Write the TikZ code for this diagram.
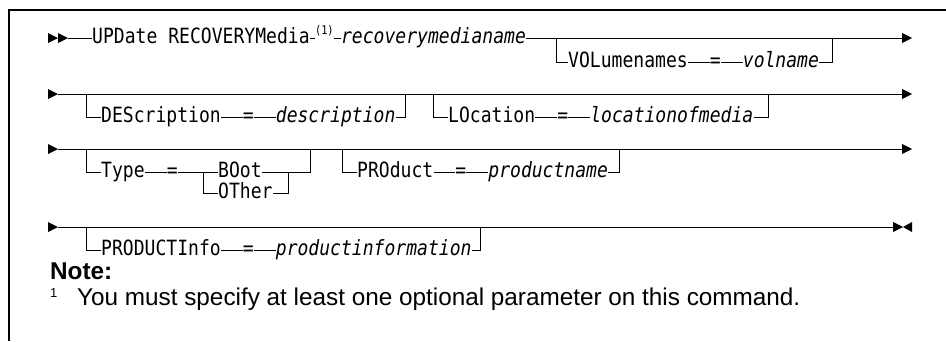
\documentclass[tikz,border=0pt]{standalone}
\usepackage{fontspec}
\setmainfont{Liberation Sans}
\newfontfamily\railfont[FakeStretch=0.86]{DejaVu Sans Mono}
\usetikzlibrary{arrows.meta,positioning}

% filled heads at the start and the end of a rail
\newcommand{\railhead}[2]{\fill (#1,#2-5) -- (#1+10,#2) -- (#1,#2+5) -- cycle;}
\newcommand{\railstop}[2]{\fill (#1,#2) -- (#1+9,#2-5) -- (#1+9,#2+5) -- cycle;}

\begin{document}
\begin{tikzpicture}[
    x=1pt, y=-1pt,
    node distance=21.7pt,
    kw/.style={
        font=\railfont\fontsize{21}{25}\selectfont, inner sep=0pt,
        anchor=west, text height=14pt, text depth=3pt
    },
    var/.style={kw, font=\railfont\fontsize{21}{25}\selectfont\itshape},
    fnMark/.style={kw, font=\railfont\fontsize{12}{13}\selectfont},
    rail/.style={line width=0.9pt, draw=black},
    railEnd/.style={rail, -{Triangle[length=10pt, width=10pt]}},
    frame/.style={line width=1.4pt},
    noteTxt/.style={anchor=base west, inner sep=0pt, font=\fontsize{24.3}{29}\selectfont}
]
\useasboundingbox (0,0) rectangle (946,341);

% Frame
\draw[frame] (946,10) -- (9,10) -- (9,341);

% Row 1: command and volume names
\railhead{48}{38} \railhead{58}{38}
\coordinate (s1) at (68,38);
\coordinate (e1) at (912,38);
\coordinate (b1l) at (556,38);
\coordinate (b1r) at (832,38);
\node[kw] (upd) at (92,38) {UPDate RECOVERYMedia};
\node[fnMark, right=5pt of upd] (fn) {\raisebox{9.5pt}{(1)}};
\node[var, right=7pt of fn] (recmed) {recoverymedianame};
\node[kw] (vol) at (568,62) {VOLumenames};
\node[kw, right=of vol] (eq1) {=};
\node[var, right=of eq1] (volname) {volname};

\draw[rail] (s1) -- (upd);
\draw[rail] (upd) -- (fn);
\draw[rail] (fn) -- (recmed);
\draw[railEnd] (recmed) -- (e1);
\draw[rail] (b1l) |- (vol);
\draw[rail] (vol) -- (eq1);
\draw[rail] (eq1) -- (volname);
\draw[rail] (volname) -| (b1r);

% Row 2: description and location
\railhead{48}{94}
\coordinate (s2) at (58,94);
\coordinate (e2) at (912,94);
\coordinate (b2l) at (86,94);
\coordinate (b2r) at (405,94);
\coordinate (b3l) at (433,94);
\coordinate (b3r) at (768,94);
\node[kw] (des) at (101,117) {DEScription};
\node[kw, right=of des] (eq2) {=};
\node[var, right=of eq2] (desc) {description};
\node[kw] (loc) at (448,117) {LOcation};
\node[kw, right=of loc] (eq3) {=};
\node[var, right=of eq3] (locm) {locationofmedia};

\draw[railEnd] (s2) -- (e2);
\draw[rail] (b2l) |- (des);
\draw[rail] (des) -- (eq2);
\draw[rail] (eq2) -- (desc);
\draw[rail] (desc) -| (b2r);
\draw[rail] (b3l) |- (loc);
\draw[rail] (loc) -- (eq3);
\draw[rail] (eq3) -- (locm);
\draw[rail] (locm) -| (b3r);

% Row 3: type and product
\railhead{48}{149}
\coordinate (s3) at (58,149);
\coordinate (e3) at (912,149);
\coordinate (b4l) at (86,149);
\coordinate (b4r) at (310,149);
\coordinate (split) at (203,172);
\coordinate (join) at (288,172);
\coordinate (b5l) at (342,149);
\coordinate (b5r) at (619,149);
\node[kw] (type) at (101,172) {Type};
\node[kw, right=of type] (eq4) {=};
\node[kw] (boot) at (218,172) {BOot};
\node[kw] (other) at (218,193) {OTher};
\node[kw] (pro) at (357,172) {PROduct};
\node[kw, right=of pro] (eq5) {=};
\node[var, right=of eq5] (pname) {productname};

\draw[railEnd] (s3) -- (e3);
\draw[rail] (b4l) |- (type);
\draw[rail] (type) -- (eq4);
\draw[rail] (eq4) -- (boot);
\draw[rail] (split) |- (other);
\draw[rail] (other) -| (join);
\draw[rail] (boot) -| (b4r);
\draw[rail] (b5l) |- (pro);
\draw[rail] (pro) -- (eq5);
\draw[rail] (eq5) -- (pname);
\draw[rail] (pname) -| (b5r);

% Row 4: product info and end of statement
\railhead{48}{227}
\coordinate (s4) at (58,227);
\coordinate (e4) at (903,227);
\coordinate (b6l) at (86,227);
\coordinate (b6r) at (480,227);
\node[kw] (pinfo) at (101,250) {PRODUCTInfo};
\node[kw, right=of pinfo] (eq6) {=};
\node[var, right=of eq6] (pinf) {productinformation};

\draw[railEnd] (s4) -- (e4);
\railstop{903}{227}
\draw[rail] (b6l) |- (pinfo);
\draw[rail] (pinfo) -- (eq6);
\draw[rail] (eq6) -- (pinf);
\draw[rail] (pinf) -| (b6r);

% Note
\node[noteTxt, font=\bfseries\fontsize{24.3}{29}\selectfont] (note) at (50,279) {Note:};
\node[noteTxt, font=\fontsize{13}{14}\selectfont] (fnnum) at (50,297) {1};
\node[noteTxt] (fntext) at (77,305) {You must specify at least one optional parameter on this command.};

\end{tikzpicture}
\end{document}
